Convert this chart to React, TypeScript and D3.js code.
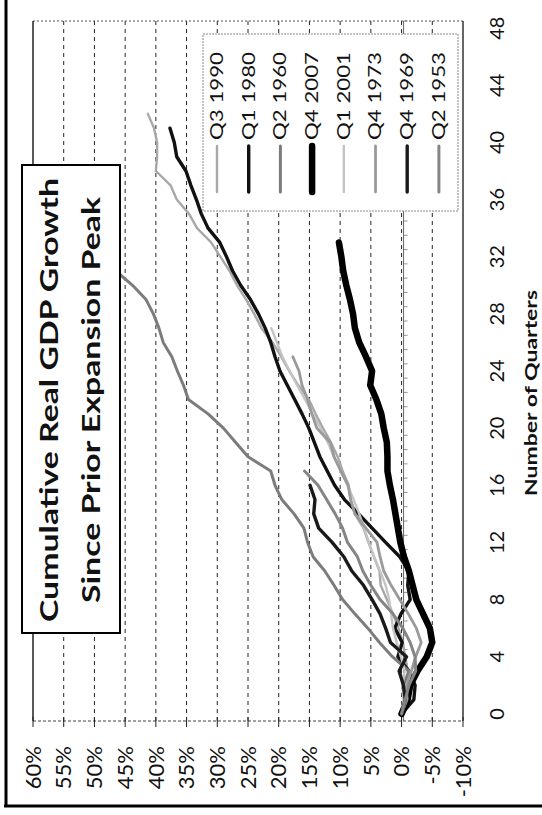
import React from "react";
import * as d3 from "d3";

// ---------- data ----------
const quarterCategories = [0,1,2,3,4,5,6,7,8,9,10,11,12,13,14,15,16,17,18,19,20,21,22,23,24,25,26,27,28,29,30,31,32,33,34,35,36,37,38,39,40,41,42,43,44,45,46,47,48];
const quarterTickLabels = ["0","4","8","12","16","20","24","28","32","36","40","44","48"];
const percentTicks = [60,55,50,45,40,35,30,25,20,15,10,5,0,-5,-10];

const seriesNames = ["Q3 1990","Q1 1980","Q2 1960","Q4 2007","Q1 2001","Q4 1973","Q4 1969","Q2 1953"];

const q3_1990 = [0,-0.9,-1.3,-1.0,-0.6,-0.2,0.5,1.4,2.4,3.4,3.6,4.5,5.4,6.2,7.6,8.3,8.6,9.6,10.4,11.5,12.8,14.0,15.1,16.8,18.3,19.6,21.0,22.8,24.0,25.3,26.8,28.0,29.5,31.0,33.3,34.6,36.6,37.6,40.0,39.8,39.8,40.3,41.3];
const q1_1980 = [0,-2.0,-2.2,-1.2,0.6,-0.1,1.1,0.1,-1.4,-1.0,-1.2,0.3,2.6,4.8,7.0,9.3,10.9,12.1,13.3,14.2,15.1,16.2,17.4,18.6,19.8,20.6,21.3,22.2,23.3,24.6,26.2,27.5,28.5,29.6,31.5,32.6,33.4,34.3,35.1,36.6,37.0,37.7];
const q2_1960 = [0,-0.5,-0.3,-1.2,1.5,3.6,5.5,7.6,9.6,11.0,12.5,14.4,15.3,15.9,17.5,19.5,20.6,21.3,25.0,27.0,29.0,31.5,34.7,35.5,36.5,37.4,38.8,39.5,40.4,41.6,43.8,46.5,47.3,48.2,49.4,50.3,51.0,51.6,52.0];
const q4_2007 = [0,-1.0,-1.4,-2.6,-4.1,-5.0,-4.6,-3.5,-2.4,-1.8,-1.2,-0.4,0.2,0.6,1.0,1.4,1.9,2.3,2.3,2.4,2.9,3.3,4.1,5.1,4.8,5.8,6.9,7.6,7.9,8.4,9.0,9.5,9.8,10.2];
const q1_2001 = [0,-0.3,-0.1,-0.5,0.1,0.8,1.4,1.7,2.0,2.6,3.5,4.5,5.3,6.1,6.9,7.8,8.8,9.9,11.0,12.0,13.2,14.5,15.7,17.0,18.2,19.4,20.3,21.2];
const q4_1973 = [0,-0.9,-0.8,-1.6,-2.3,-3.2,-2.4,-1.1,0.3,1.7,2.9,3.5,4.0,5.8,7.6,8.3,8.7,9.9,11.0,11.6,13.8,14.6,15.3,16.2,16.7,17.7];
const q4_1969 = [0,-0.6,-0.3,0.4,-0.8,1.8,2.6,3.5,4.8,6.2,8.1,9.4,11.3,13.5,14.3,14.1,14.9];
const q2_1953 = [0,-0.6,-1.2,-2.3,-2.2,-1.4,-0.2,1.4,3.5,5.0,6.3,7.2,8.8,9.6,10.8,12.2,13.6,15.8];

const seriesValues = [q3_1990, q1_1980, q2_1960, q4_2007, q1_2001, q4_1973, q4_1969, q2_1953];
const seriesColors = ["#a8a8a8", "#111111", "#7c7c7c", "#000000", "#c4c4c4", "#9a9a9a", "#1a1a1a", "#858585"];
const seriesWidths = [2.4, 3.4, 3, 6.5, 2.4, 2.8, 3.4, 3];

// ---------- layout ----------
const W = 542, H = 815;
const plotLeft = 33, plotRight = 463, plotTop = 21, plotBottom = 721;
const FONT = "Lato, 'Open Sans', sans-serif";

export default function App() {
  const xV = d3.scaleLinear().domain([60, -10]).range([plotLeft, plotRight]);
  const yQ = d3.scaleBand<number>().domain(quarterCategories).range([plotBottom, plotTop]).padding(0);
  const bw = yQ.bandwidth();
  const yc = (q: number) => (yQ(q) as number) + bw / 2;

  const line = d3.line<number>().x((v) => xV(v)).y((_, i) => yc(quarterCategories[i]));

  const gridVals = percentTicks.filter((p) => p < 60 && p > -10);
  const zeroX = xV(0);

  const legendX0 = 217, legendStep = 31.7;

  return (
    <svg width={W} height={H} style={{ position: "absolute", left: 0, top: 0, background: "#fff" }} fontFamily={FONT}>
      <rect x={0} y={0} width={W} height={H} fill="#fff" />
      {/* outer frame */}
      <line x1={6} y1={0} x2={6} y2={807} stroke="#000" strokeWidth={3} />
      <line x1={4} y1={806} x2={W} y2={806} stroke="#000" strokeWidth={3} />

      {/* gridlines (value) */}
      {gridVals.map((p) => (
        <line key={"g" + p} x1={xV(p)} x2={xV(p)} y1={plotTop} y2={plotBottom} stroke="#222" strokeWidth={1} strokeDasharray="4,4" />
      ))}
      {/* plot borders */}
      <line x1={plotLeft} x2={plotRight} y1={plotTop} y2={plotTop} stroke="#555" strokeWidth={1} strokeDasharray="2,2" />
      <line x1={plotLeft} x2={plotLeft} y1={plotTop} y2={plotBottom} stroke="#222" strokeWidth={1.5} />
      <line x1={plotRight} x2={plotRight} y1={plotTop} y2={plotBottom} stroke="#333" strokeWidth={1.5} />
      <line x1={plotLeft} x2={plotRight} y1={plotBottom} y2={plotBottom} stroke="#444" strokeWidth={1} strokeDasharray="3,2" />
      {percentTicks.map((p) => (
        <line key={"vt" + p} x1={xV(p)} x2={xV(p)} y1={plotBottom - 4} y2={plotBottom + 6} stroke="#222" strokeWidth={1} />
      ))}

      {/* category axis at 0% */}
      <line x1={zeroX + 2} x2={zeroX + 2} y1={plotTop} y2={plotBottom} stroke="#666" strokeWidth={1} />
      {quarterCategories.map((q) => (
        <line key={"ct" + q} x1={zeroX + 2} x2={zeroX + 6} y1={(yQ(q) as number)} y2={(yQ(q) as number)} stroke="#777" strokeWidth={0.8} />
      ))}

      {/* series */}
      {seriesValues.map((vals, i) => (
        <path key={"s" + i} d={line(vals) || ""} fill="none" stroke={seriesColors[i]} strokeWidth={seriesWidths[i]} strokeLinejoin="round" strokeLinecap="round" />
      ))}

      {/* value tick labels */}
      {percentTicks.map((p) => (
        <text key={"pl" + p} transform={`translate(${xV(p)},746) rotate(-90)`} textAnchor="end" dy="0.35em" fontSize={22} fill="#111">
          {`${p}%`}
        </text>
      ))}
      {/* quarter tick labels */}
      {quarterTickLabels.map((t) => (
        <text key={"ql" + t} transform={`translate(497,${yc(+t)}) rotate(-90)`} textAnchor="middle" dy="0.35em" fontSize={20} fill="#111">
          {t}
        </text>
      ))}
      {/* axis title */}
      <text transform={`translate(531,393) rotate(-90)`} textAnchor="middle" dy="0.35em" fontSize={17} fontWeight="bold" fill="#111" textLength={206} lengthAdjust="spacingAndGlyphs">
        Number of Quarters
      </text>

      {/* title box */}
      <rect x={22} y={165} width={98} height={468} fill="#fff" stroke="#000" strokeWidth={2} />
      <text transform={`translate(58,400) rotate(-90)`} textAnchor="middle" fontSize={24} fontWeight="bold" fill="#111" textLength={444} lengthAdjust="spacingAndGlyphs">
        Cumulative Real GDP Growth
      </text>
      <text transform={`translate(100,400) rotate(-90)`} textAnchor="middle" fontSize={24} fontWeight="bold" fill="#111" textLength={406} lengthAdjust="spacingAndGlyphs">
        Since Prior Expansion Peak
      </text>

      {/* legend */}
      <rect x={203} y={34} width={255} height={177} fill="#fff" stroke="#888" strokeWidth={1} strokeDasharray="2,1" />
      {seriesNames.map((name, i) => {
        const lx = legendX0 + i * legendStep;
        return (
          <g key={"lg" + i}>
            <line x1={lx} x2={lx} y1={192} y2={146} stroke={seriesColors[i]} strokeWidth={seriesWidths[i]} strokeLinecap="round" />
            <text transform={`translate(${lx},140) rotate(-90)`} textAnchor="start" dy="0.35em" fontSize={17} fill="#111" textLength={88} lengthAdjust="spacingAndGlyphs">
              {name}
            </text>
          </g>
        );
      })}
    </svg>
  );
}
